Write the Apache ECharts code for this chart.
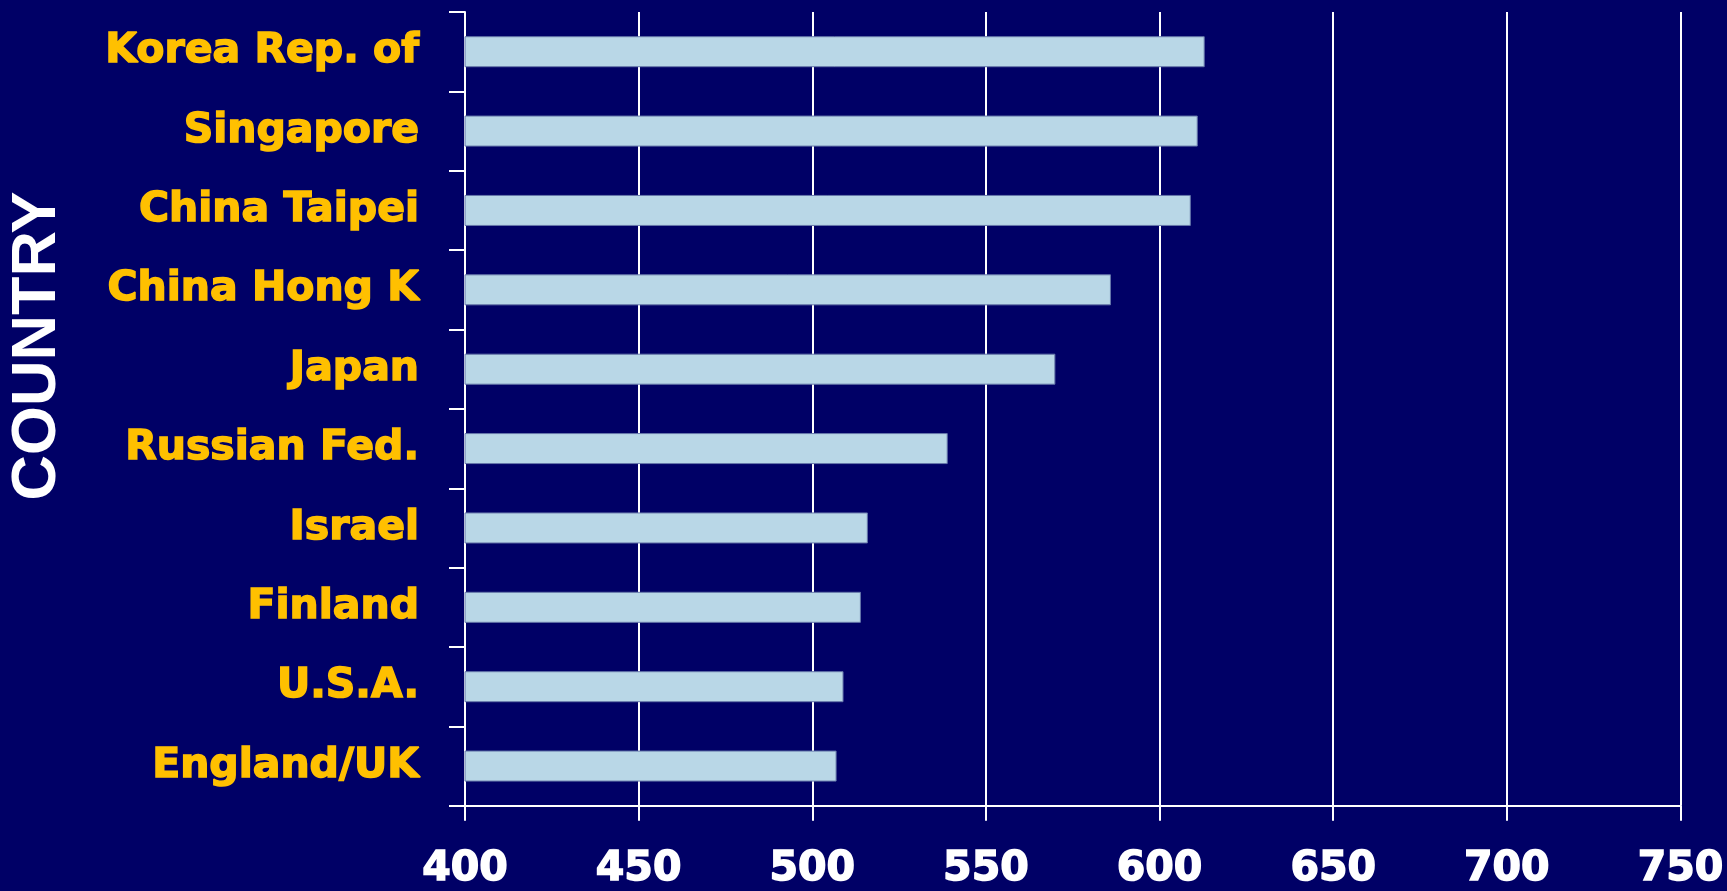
<!DOCTYPE html>
<html>
<head>
<meta charset="utf-8">
<script src="https://cdn.jsdelivr.net/npm/echarts@6/dist/echarts.min.js"></script>
<style>
html,body{margin:0;padding:0;background:#000066;}
#chart{width:1727px;height:891px;}
</style>
</head>
<body>
<div id="chart"></div>
<script>
var countries = ["Korea Rep. of","Singapore","China Taipei","China Hong K","Japan","Russian Fed.","Israel","Finland","U.S.A.","England/UK"];
var scores = [613, 611, 609, 586, 570, 539, 516, 514, 509, 507];
var axisTitle = "COUNTRY";
var xMin = 400, xMax = 750, xStep = 50;

var chart = echarts.init(document.getElementById('chart'));
chart.setOption({
  backgroundColor: '#000066',
  animation: false,
  grid: {left: 465, right: 45, top: 12, bottom: 84, containLabel: false},
  xAxis: {
    type: 'value', min: xMin, max: xMax, interval: xStep,
    axisLine: {show: true, lineStyle: {color: '#ffffff', width: 2}},
    axisTick: {show: true, length: 15, lineStyle: {color: '#ffffff', width: 2}},
    splitLine: {show: true, lineStyle: {color: '#ffffff', width: 2}},
    axisLabel: {color: '#ffffff', fontFamily: 'DejaVu Sans', fontWeight: 'bold', fontSize: 41, margin: 64, verticalAlign: 'middle',
                textBorderColor: '#ffffff', textBorderWidth: 1.5}
  },
  yAxis: {
    type: 'category', data: countries, inverse: true,
    axisLine: {show: true, lineStyle: {color: '#ffffff', width: 2}},
    axisTick: {show: true, length: 16, alignWithLabel: false, lineStyle: {color: '#ffffff', width: 2}},
    splitLine: {show: false},
    axisLabel: {color: '#FFC000', fontFamily: 'DejaVu Sans', fontWeight: 'bold', fontSize: 41, margin: 46,
                textBorderColor: '#FFC000', textBorderWidth: 1.5}
  },
  graphic: [{
    type: 'text', x: 38, y: 346, rotation: Math.PI / 2,
    style: {text: axisTitle, fill: '#ffffff', font: 'bold 63px "Liberation Sans", Arial, sans-serif', align: 'center', verticalAlign: 'middle'}
  }],
  series: [{
    type: 'bar', data: scores, barWidth: 31,
    itemStyle: {color: '#B9D7E7', borderColor: '#6677AA', borderWidth: 1}
  }]
});
</script>
</body>
</html>
